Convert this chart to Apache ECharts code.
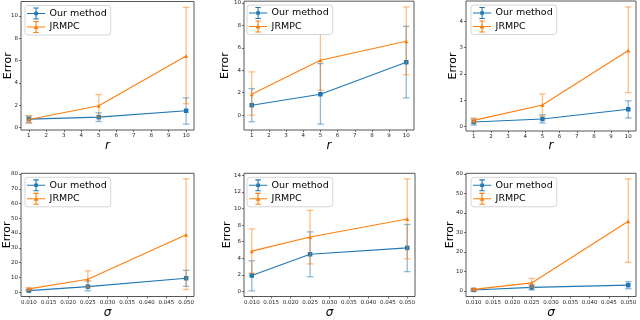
<!DOCTYPE html>
<html><head><meta charset="utf-8">
<script src="https://cdn.jsdelivr.net/npm/echarts@6/dist/echarts.min.js"></script>
<style>html,body{margin:0;padding:0;background:#fff}#c{width:640px;height:320px}</style>
</head><body><div id="c"></div>
<script>
// ---- data ----
const rValues = [1, 5, 10];
const sigmaValues = [0.01, 0.025, 0.05];
const rTicks = [1,2,3,4,5,6,7,8,9,10];
const sigmaTicks = [0.010,0.015,0.020,0.025,0.030,0.035,0.040,0.045,0.050];

const p1Ours = [0.75, 0.93, 1.5],  p1OursLo = [0.42, 0.54, 0.30],  p1OursHi = [1.02, 1.32, 2.66];
const p1Jr   = [0.72, 1.95, 6.4],  p1JrLo   = [0.40, 0.93, 2.13],  p1JrHi   = [1.05, 2.96, 10.77];
const p1YTicks = [0,2,4,6,8,10];

const p2Ours = [0.89, 1.87, 4.72], p2OursLo = [-0.59, -0.80, 1.54], p2OursHi = [2.37, 4.60, 7.92];
const p2Jr   = [1.87, 4.90, 6.59], p2JrLo   = [0.0, 2.23, 3.60],   p2JrHi   = [3.86, 7.63, 9.64];
const p2YTicks = [0,2,4,6,8,10];

const p3Ours = [0.18, 0.29, 0.66], p3OursLo = [0.06, 0.14, 0.33], p3OursHi = [0.29, 0.45, 0.98];
const p3Jr   = [0.24, 0.82, 2.89], p3JrLo   = [0.15, 0.40, 1.29], p3JrHi   = [0.33, 1.24, 4.54];
const p3YTicks = [0,1,2,3,4];

const p4Ours = [1.0, 3.7, 9.4],    p4OursLo = [0.8, 0.9, 3.9],    p4OursHi = [1.7, 7.4, 14.8];
const p4Jr   = [2.2, 8.7, 38.8],   p4JrLo   = [1.1, 3.3, 1.7],    p4JrHi   = [3.05, 14.4, 76.7];
const p4YTicks = [0,10,20,30,40,50,60,70,80];

const p5Ours = [1.93, 4.49, 5.26], p5OursLo = [0.08, 1.78, 2.40], p5OursHi = [3.71, 7.19, 8.08];
const p5Jr   = [4.87, 6.57, 8.74], p5JrLo   = [2.24, 3.33, 3.94], p5JrHi   = [7.54, 9.78, 13.57];
const p5YTicks = [0,2,4,6,8,10,12,14];

const p6Ours = [0.5, 1.8, 2.94],   p6OursLo = [0.0, 0.5, 1.1],    p6OursHi = [1.0, 3.1, 4.7];
const p6Jr   = [0.8, 4.1, 35.8],   p6JrLo   = [0.33, 1.8, 14.7],  p6JrHi   = [1.3, 6.4, 57.5];
const p6YTicks = [0,10,20,30,40,50,60];

const seriesNames = ['Our method', 'JRMPC'];
const xAxisNames = ['r', 'r', 'r', 'σ', 'σ', 'σ'];
const yAxisName = 'Error';

// ---- styling / layout ----
const BLUE = '#1f77b4', ORANGE = '#ff7f0e';
const FONT = 'DejaVu Sans';
const panels = [
  {x: rValues, xt: rTicks, ours: p1Ours, oLo: p1OursLo, oHi: p1OursHi, jr: p1Jr, jLo: p1JrLo, jHi: p1JrHi, yt: p1YTicks,
   grid: {left: 21, top: 1.5, width: 173, height: 128.5}, yGap: 7.5, xGap: 9.5},
  {x: rValues, xt: rTicks, ours: p2Ours, oLo: p2OursLo, oHi: p2OursHi, jr: p2Jr, jLo: p2JrLo, jHi: p2JrHi, yt: p2YTicks,
   grid: {left: 244, top: 1, width: 170, height: 129}, yGap: 13, xGap: 9.5},
  {x: rValues, xt: rTicks, ours: p3Ours, oLo: p3OursLo, oHi: p3OursHi, jr: p3Jr, jLo: p3JrLo, jHi: p3JrHi, yt: p3YTicks,
   grid: {left: 466, top: 1, width: 170, height: 130}, yGap: 7, xGap: 9},
  {x: sigmaValues, xt: sigmaTicks, ours: p4Ours, oLo: p4OursLo, oHi: p4OursHi, jr: p4Jr, jLo: p4JrLo, jHi: p4JrHi, yt: p4YTicks,
   grid: {left: 21, top: 173.3, width: 173, height: 127.5}, yGap: 8, xGap: 10.5},
  {x: sigmaValues, xt: sigmaTicks, ours: p5Ours, oLo: p5OursLo, oHi: p5OursHi, jr: p5Jr, jLo: p5JrLo, jHi: p5JrHi, yt: p5YTicks,
   grid: {left: 244, top: 173.3, width: 171, height: 128}, yGap: 11, xGap: 10.5},
  {x: sigmaValues, xt: sigmaTicks, ours: p6Ours, oLo: p6OursLo, oHi: p6OursHi, jr: p6Jr, jLo: p6JrLo, jHi: p6JrHi, yt: p6YTicks,
   grid: {left: 466, top: 173.3, width: 170, height: 128.5}, yGap: 10, xGap: 10.5}
];

function margins(lo, hi) { const d = (hi - lo) * 0.05; return [lo - d, hi + d]; }

const iconBlue = 'path://M0,6.4H20V7.6H0Z M9.4,1H10.6V13H9.4Z M7,0.4H13V1.6H7Z M7,12.4H13V13.6H7Z M8,5H12V9H8Z';
const iconOrange = 'path://M0,6.4H20V7.6H0Z M9.4,1H10.6V13H9.4Z M7,0.4H13V1.6H7Z M7,12.4H13V13.6H7Z M10,4.3L12.6,9.2H7.4Z';

function errRender(color) {
  return function (params, api) {
    const x = api.value(0), lo = api.value(1), hi = api.value(2);
    const pLo = api.coord([x, lo]), pHi = api.coord([x, hi]);
    const cw = 3.3;
    const st = {stroke: color, lineWidth: 1.3, opacity: 0.5};
    return {type: 'group', children: [
      {type: 'line', shape: {x1: pLo[0], y1: pLo[1], x2: pHi[0], y2: pHi[1]}, style: st},
      {type: 'line', shape: {x1: pLo[0]-cw, y1: pLo[1], x2: pLo[0]+cw, y2: pLo[1]}, style: st},
      {type: 'line', shape: {x1: pHi[0]-cw, y1: pHi[1], x2: pHi[0]+cw, y2: pHi[1]}, style: st}
    ]};
  };
}

const grids = [], xAxes = [], yAxes = [], series = [], legends = [];
panels.forEach((p, i) => {
  grids.push(Object.assign({show: true, borderColor: '#444', borderWidth: 0.9, backgroundColor: '#fff', containLabel: false}, p.grid));
  const [xmin, xmax] = margins(p.x[0], p.x[p.x.length - 1]);
  const allLo = p.oLo.concat(p.jLo), allHi = p.oHi.concat(p.jHi);
  const [ymin, ymax] = margins(Math.min(...allLo), Math.max(...allHi));
  const sigma = i >= 3;
  xAxes.push({
    type: 'value', gridIndex: i, min: xmin, max: xmax, position: 'bottom',
    name: xAxisNames[i], nameLocation: 'middle', nameGap: p.xGap, nameMoveOverlap: false,
    nameTextStyle: {fontFamily: FONT, fontSize: 12, fontStyle: 'italic', color: '#000'},
    axisLine: {show: false, onZero: false},
    splitLine: {show: false},
    axisTick: {show: true, length: 2, lineStyle: {color: '#333', width: 0.7}, customValues: p.xt},
    axisLabel: {fontFamily: FONT, fontSize: 5.5, color: '#222', margin: 3, customValues: p.xt,
      formatter: v => sigma ? v.toFixed(3) : String(Math.round(v))}
  });
  yAxes.push({
    type: 'value', gridIndex: i, min: ymin, max: ymax, position: 'left',
    name: yAxisName, nameLocation: 'middle', nameGap: p.yGap, nameRotate: 90, nameMoveOverlap: false,
    nameTextStyle: {fontFamily: FONT, fontSize: 11, color: '#000'},
    axisLine: {show: false, onZero: false},
    splitLine: {show: false},
    axisTick: {show: true, length: 2, lineStyle: {color: '#333', width: 0.7}, customValues: p.yt},
    axisLabel: {fontFamily: FONT, fontSize: 5.5, color: '#222', margin: 3, customValues: p.yt}
  });
  const oursErr = p.x.map((x, k) => [x, p.oLo[k], p.oHi[k]]);
  const jrErr = p.x.map((x, k) => [x, p.jLo[k], p.jHi[k]]);
  series.push({type: 'custom', name: seriesNames[0], xAxisIndex: i, yAxisIndex: i, renderItem: errRender(BLUE), data: oursErr, z: 2, silent: true, itemStyle: {color: BLUE}});
  series.push({type: 'line', name: seriesNames[0], xAxisIndex: i, yAxisIndex: i, data: p.x.map((x, k) => [x, p.ours[k]]),
    symbol: 'rect', symbolSize: 4.5, lineStyle: {color: BLUE, width: 1.1}, itemStyle: {color: BLUE}, z: 3, animation: false});
  series.push({type: 'custom', name: seriesNames[1], xAxisIndex: i, yAxisIndex: i, renderItem: errRender(ORANGE), data: jrErr, z: 4, silent: true, itemStyle: {color: ORANGE}});
  series.push({type: 'line', name: seriesNames[1], xAxisIndex: i, yAxisIndex: i, data: p.x.map((x, k) => [x, p.jr[k]]),
    symbol: 'triangle', symbolSize: 4, lineStyle: {color: ORANGE, width: 1.1}, itemStyle: {color: ORANGE}, z: 5, animation: false});
  legends.push({
    left: p.grid.left + (i % 3 === 0 ? 4 : (i % 3 === 1 ? 3 : 5)), top: p.grid.top + 4,
    orient: 'vertical', selectedMode: false,
    data: [{name: seriesNames[0], icon: iconBlue, itemStyle: {color: BLUE}}, {name: seriesNames[1], icon: iconOrange, itemStyle: {color: ORANGE}}],
    itemWidth: 19, itemHeight: 12, itemGap: 1.5,
    textStyle: {fontFamily: FONT, fontSize: 9.5, color: '#000', padding: [0, 0, 0, -1]},
    backgroundColor: '#fff', borderColor: '#ccc', borderWidth: 0.8, borderRadius: 3,
    padding: [2, 4, 2, 2], z: 10
  });
});

const chart = echarts.init(document.getElementById('c'), null, {renderer: 'canvas'});
chart.setOption({animation: false, grid: grids, xAxis: xAxes, yAxis: yAxes, series: series, legend: legends});
</script>
</body></html>
